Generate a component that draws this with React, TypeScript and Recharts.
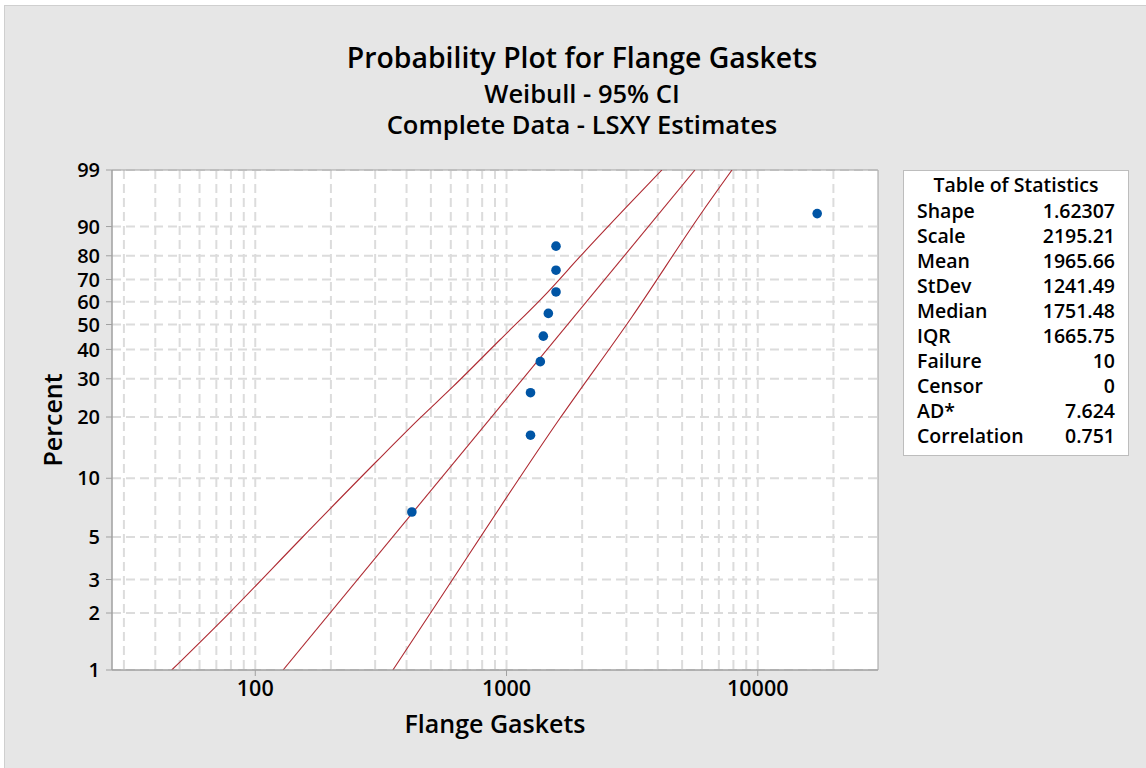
import {
  CartesianGrid,
  ComposedChart,
  Line,
  ReferenceArea,
  Scatter,
  XAxis,
  YAxis,
} from "recharts";

// Flange gasket failure data (time, median-rank percent)
const gasketValues = [420, 1246, 1246, 1363, 1401, 1467, 1574, 1574, 1574, 17240];
const gasketPercents = [6.73, 16.35, 25.96, 35.58, 45.19, 54.81, 64.42, 74.04, 83.65, 93.27];

// LSXY Weibull estimates
const shape = 1.62307;
const scale = 2195.21;
const fitPercents = [1, 99];

// 95% confidence band, short-time side
const ciLowPercents = [1, 2, 5, 12.1, 19.7, 27.65, 43.64, 63.81, 79.64, 94.7, 99];
const ciLowValues = [46.5, 78.8, 154.4, 303, 451, 612, 940, 1444, 1960, 3011, 4153];

// 95% confidence band, long-time side
const ciHighPercents = [1, 2.03, 19.72, 53.37, 94.05, 99];
const ciHighValues = [353, 502, 1632, 3160, 6085, 7898];

const xTicks = [100, 1000, 10000];
const xGrid = [
  30, 40, 50, 60, 70, 80, 90, 100, 200, 300, 400, 500, 600, 700, 800, 900, 1000,
  2000, 3000, 4000, 5000, 6000, 7000, 8000, 9000, 10000, 20000,
];
const yTicks = [1, 2, 3, 5, 10, 20, 30, 40, 50, 60, 70, 80, 90, 99];

const statLabels = ["Shape", "Scale", "Mean", "StDev", "Median", "IQR", "Failure", "Censor", "AD*", "Correlation"];
const statValues = ["1.62307", "2195.21", "1965.66", "1241.49", "1751.48", "1665.75", "10", "0", "7.624", "0.751"];

// Weibull probability paper: percent -> ln(-ln(1 - p))
const wb = (p: number) => Math.log(-Math.log(1 - p / 100));
const wbInv = (w: number) => 100 * (1 - Math.exp(-Math.exp(w)));

const X_MIN = 26.9;
const X_MAX = 30100;
const Y_MIN = wb(1);
const Y_MAX = wb(99);

const points = gasketValues.map((x, i) => ({ x, y: wb(gasketPercents[i]) }));
const fitLine = fitPercents.map((p) => ({
  x: scale * Math.pow(-Math.log(1 - p / 100), 1 / shape),
  y: wb(p),
}));
const ciLow = ciLowValues.map((x, i) => ({ x, y: wb(ciLowPercents[i]) }));
const ciHigh = ciHighValues.map((x, i) => ({ x, y: wb(ciHighPercents[i]) }));

const FONT = '"Open Sans", sans-serif';
const RED = "#AE2A32";
const AXIS = "#A0A0A0";

const Dot = (props: any) => (
  <circle cx={props.cx} cy={props.cy} r={4.8} fill="#0055A5" />
);

export default function App() {
  return (
    <div
      style={{
        position: "absolute",
        left: 0,
        top: 0,
        width: 1146,
        height: 768,
        background: "#fff",
        fontFamily: FONT,
        color: "#000",
        overflow: "hidden",
      }}
    >
      <div
        style={{
          position: "absolute",
          left: 4,
          top: 5,
          right: 0,
          bottom: 0,
          background: "#E6E6E6",
          borderLeft: "1px solid #CFCFCF",
          borderTop: "1px solid #CFCFCF",
        }}
      />
      <div style={{ position: "absolute", left: 0, top: 0 }}>
        <ComposedChart
          width={1146}
          height={768}
          margin={{ top: 170, right: 268, bottom: 68, left: 52 }}
        >
          <CartesianGrid
            fill="#fff"
            stroke="#DCDCDC"
            strokeWidth={2}
            strokeDasharray="9 5"
            verticalValues={xGrid}
            horizontalValues={yTicks.map(wb)}
          />
          <XAxis
            type="number"
            dataKey="x"
            scale="log"
            domain={[X_MIN, X_MAX]}
            allowDataOverflow
            ticks={xTicks}
            interval={0}
            height={30}
            tickSize={6}
            tickMargin={5}
            axisLine={{ stroke: AXIS }}
            tickLine={{ stroke: AXIS }}
            tick={{ fill: "#000", fontSize: 21.5, fontWeight: 600, fontFamily: FONT }}
          />
          <YAxis
            type="number"
            dataKey="y"
            domain={[Y_MIN, Y_MAX]}
            allowDataOverflow
            ticks={yTicks.map(wb)}
            interval={0}
            tickFormatter={(v: number) => String(Math.round(wbInv(v)))}
            width={60}
            tickSize={6}
            tickMargin={6}
            axisLine={{ stroke: AXIS }}
            tickLine={{ stroke: AXIS }}
            tick={{ fill: "#000", fontSize: 20, fontWeight: 600, fontFamily: FONT }}
          />
          <ReferenceArea
            x1={X_MIN}
            x2={X_MAX}
            y1={Y_MIN}
            y2={Y_MAX}
            fill="none"
            stroke={AXIS}
          />
          <Line data={ciLow} dataKey="y" type="monotone" stroke={RED} strokeWidth={1.1} dot={false} isAnimationActive={false} />
          <Line data={fitLine} dataKey="y" type="linear" stroke={RED} strokeWidth={1.1} dot={false} isAnimationActive={false} />
          <Line data={ciHigh} dataKey="y" type="monotone" stroke={RED} strokeWidth={1.1} dot={false} isAnimationActive={false} />
          <Scatter data={points} dataKey="y" shape={Dot} isAnimationActive={false} />
        </ComposedChart>
      </div>

      {/* titles */}
      <div style={{ position: "absolute", left: 282, width: 600, top: 38, textAlign: "center", fontSize: 28.4, fontWeight: 600, lineHeight: "38px" }}>
        Probability Plot for Flange Gaskets
      </div>
      <div style={{ position: "absolute", left: 282, width: 600, top: 76, textAlign: "center", fontSize: 25.5, fontWeight: 600, lineHeight: "34px" }}>
        Weibull - 95% CI
      </div>
      <div style={{ position: "absolute", left: 282, width: 600, top: 107, textAlign: "center", fontSize: 25.5, fontWeight: 600, lineHeight: "34px" }}>
        Complete Data - LSXY Estimates
      </div>

      {/* axis titles */}
      <div style={{ position: "absolute", left: 295, width: 400, top: 706, textAlign: "center", fontSize: 25, fontWeight: 600, lineHeight: "34px" }}>
        Flange Gaskets
      </div>
      <div
        style={{
          position: "absolute",
          left: 52 - 100,
          top: 420 - 17,
          width: 200,
          textAlign: "center",
          fontSize: 25,
          fontWeight: 600,
          lineHeight: "34px",
          transform: "rotate(-90deg)",
        }}
      >
        Percent
      </div>

      {/* statistics table */}
      <div
        style={{
          position: "absolute",
          left: 903,
          top: 170,
          width: 224,
          height: 284,
          background: "#fff",
          border: "1px solid #BDBDBD",
          fontSize: 19.5,
          fontWeight: 600,
        }}
      >
        <div style={{ position: "absolute", left: 0, right: 0, top: 0, textAlign: "center", lineHeight: "28px" }}>
          Table of Statistics
        </div>
        {statLabels.map((label, i) => (
          <div
            key={label}
            style={{
              position: "absolute",
              left: 13,
              right: 13,
              top: 26 + i * 25,
              lineHeight: "28px",
              display: "flex",
              justifyContent: "space-between",
            }}
          >
            <span>{label}</span>
            <span>{statValues[i]}</span>
          </div>
        ))}
      </div>
    </div>
  );
}
